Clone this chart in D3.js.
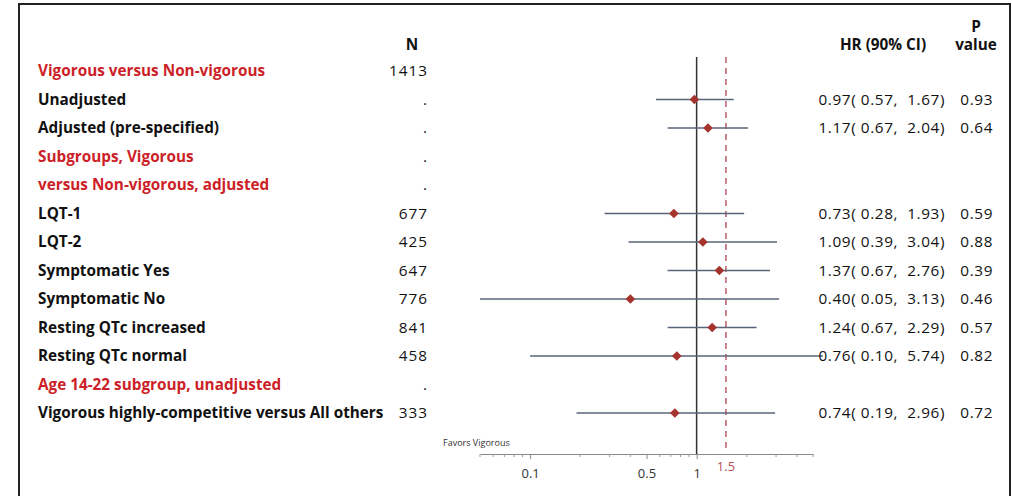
<!DOCTYPE html>
<html>
<head>
<meta charset="utf-8">
<script src="https://cdn.jsdelivr.net/npm/d3@7/dist/d3.min.js"></script>
<style>
  html, body { margin: 0; padding: 0; background: #fff; }
  svg { display: block; font-family: "Open Sans", "Noto Sans", Arial, sans-serif; }
</style>
</head>
<body>
<svg id="chart" width="1012" height="496"></svg>
<script>
// Row labels, top to bottom
const rowLabels = [
  "Vigorous versus Non-vigorous",
  "Unadjusted",
  "Adjusted (pre-specified)",
  "Subgroups, Vigorous",
  "versus Non-vigorous, adjusted",
  "LQT-1",
  "LQT-2",
  "Symptomatic Yes",
  "Symptomatic No",
  "Resting QTc increased",
  "Resting QTc normal",
  "Age 14-22 subgroup, unadjusted",
  "Vigorous highly-competitive versus All others"
];
// Section headings (drawn in red)
const headingRows = [0, 3, 4, 11];
const nValues = ["1413", ".", ".", ".", ".", "677", "425", "647", "776", "841", "458", ".", "333"];
// Hazard ratios with 90% confidence limits (null = heading row)
const hrValues = [null, 0.97, 1.17, null, null, 0.73, 1.09, 1.37, 0.40, 1.24, 0.76, null, 0.74];
const ciLower  = [null, 0.57, 0.67, null, null, 0.28, 0.39, 0.67, 0.05, 0.67, 0.10, null, 0.19];
const ciUpper  = [null, 1.67, 2.04, null, null, 1.93, 3.04, 2.76, 3.13, 2.29, 5.74, null, 2.96];
const pValues  = [null, "0.93", "0.64", null, null, "0.59", "0.88", "0.39", "0.46", "0.57", "0.82", null, "0.72"];
// Axis ticks
const labelledTicks = [0.1, 0.5, 1];
const minorTicks = [0.05, 0.06, 0.07, 0.08, 0.09, 0.2, 0.3, 0.4, 0.6, 0.7, 0.8, 0.9, 2, 3, 4, 5];
const referenceLine = 1.5;

const svg = d3.select("#chart");
const RED = "#cc1f27";
const TEXT = "#111";
const FS = 15.3;

// outer frame
svg.append("rect")
  .attr("x", 19).attr("y", 4)
  .attr("width", 991).attr("height", 520)
  .attr("fill", "none").attr("stroke", "#222").attr("stroke-width", 2);

const x = d3.scaleLog().domain([0.05, 5]).range([480, 813]);
const rows = d3.range(rowLabels.length);
const y = d3.scalePoint().domain(rows).range([71, 413]);
const axisY = 454;

// column headers
const hdr = svg.append("g").attr("font-weight", "bold").attr("font-size", FS).attr("fill", TEXT)
  .attr("text-anchor", "middle");
hdr.append("text").attr("x", 412).attr("y", 45).attr("dy", "0.35em").text("N");
hdr.append("text").attr("x", 883).attr("y", 45).attr("dy", "0.35em").text("HR (90% CI)");
hdr.append("text").attr("x", 976).attr("y", 27).attr("dy", "0.35em").text("P");
hdr.append("text").attr("x", 976).attr("y", 45).attr("dy", "0.35em").text("value");

// row labels
svg.append("g").selectAll("text").data(rows).join("text")
  .attr("x", 38).attr("y", i => y(i)).attr("dy", "0.35em")
  .attr("font-size", FS).attr("font-weight", "bold")
  .attr("fill", i => headingRows.includes(i) ? RED : TEXT)
  .text(i => rowLabels[i]);

// N column
svg.append("g").selectAll("text").data(rows).join("text")
  .attr("x", 428).attr("y", i => y(i)).attr("dy", "0.35em")
  .attr("text-anchor", "end").attr("font-size", FS).attr("fill", TEXT)
  .attr("letter-spacing", 1)
  .text(i => nValues[i]);

// reference lines
svg.append("line")
  .attr("x1", x(1)).attr("x2", x(1)).attr("y1", 57).attr("y2", axisY)
  .attr("stroke", "#333").attr("stroke-width", 1.5);
svg.append("line")
  .attr("x1", x(referenceLine)).attr("x2", x(referenceLine)).attr("y1", 57).attr("y2", axisY - 2)
  .attr("stroke", "#b4505c").attr("stroke-width", 1.4).attr("stroke-dasharray", "6,5");

const est = rows.filter(i => hrValues[i] !== null);

// confidence intervals
svg.append("g").selectAll("line").data(est).join("line")
  .attr("x1", i => x(ciLower[i])).attr("x2", i => x(ciUpper[i]))
  .attr("y1", i => y(i)).attr("y2", i => y(i))
  .attr("stroke", "#5a6478").attr("stroke-width", 1.3);

// point estimates
svg.append("g").selectAll("path").data(est).join("path")
  .attr("transform", i => `translate(${x(hrValues[i])},${y(i)})`)
  .attr("d", d3.symbol(d3.symbolDiamond2, 60))
  .attr("fill", "#a5342e");

// HR (90% CI) text
const f2 = d3.format(".2f");
svg.append("g").selectAll("text").data(est).join("text")
  .attr("x", 945).attr("y", i => y(i)).attr("dy", "0.35em")
  .attr("text-anchor", "end").attr("font-size", FS).attr("fill", TEXT)
  .attr("letter-spacing", 0.6).attr("xml:space", "preserve")
  .text(i => `${f2(hrValues[i])}( ${f2(ciLower[i])},  ${f2(ciUpper[i])})`);

// P values
svg.append("g").selectAll("text").data(est).join("text")
  .attr("x", 993).attr("y", i => y(i)).attr("dy", "0.35em")
  .attr("text-anchor", "end").attr("font-size", FS).attr("fill", TEXT)
  .attr("letter-spacing", 0.6)
  .text(i => pValues[i]);

// x axis
const axisG = svg.append("g").attr("transform", `translate(0,${axisY})`);
axisG.call(d3.axisBottom(x).tickValues(labelledTicks).tickFormat(d3.format("")).tickSize(5).tickSizeOuter(0))
  .call(g => g.select(".domain").attr("stroke", "#888"))
  .call(g => g.selectAll(".tick line").attr("stroke", "#888"))
  .call(g => g.selectAll(".tick text").attr("font-size", 13).attr("fill", "#333")
    .attr("font-family", "Open Sans, Noto Sans, Arial, sans-serif").attr("dy", "1.25em"));
axisG.append("g").selectAll("line").data(minorTicks).join("line")
  .attr("x1", d => x(d)).attr("x2", d => x(d)).attr("y1", 0).attr("y2", 3)
  .attr("stroke", "#999");

// reference value label
svg.append("text")
  .attr("x", x(referenceLine)).attr("y", 466).attr("dy", "0.35em")
  .attr("text-anchor", "middle").attr("font-size", 13).attr("fill", "#b4505c")
  .text("1.5");

svg.append("text")
  .attr("x", 443).attr("y", 443).attr("dy", "0.35em")
  .attr("font-size", 9).attr("fill", "#333")
  .text("Favors Vigorous");
</script>
</body>
</html>
